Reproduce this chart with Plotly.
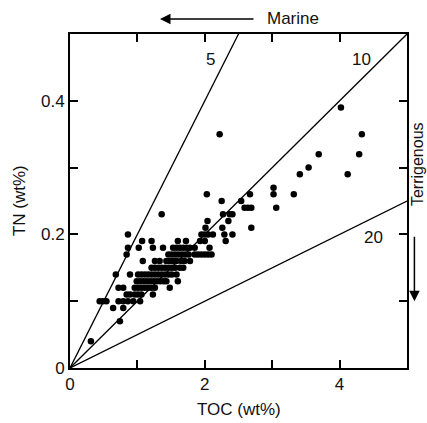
import plotly.graph_objects as go

# TN rows (wt%) and the TOC values (wt%) of samples in each row
tn_rows = [0.04, 0.07, 0.09, 0.10, 0.11, 0.12, 0.13, 0.14, 0.15, 0.16, 0.17,
           0.18, 0.19, 0.20, 0.21, 0.22, 0.23, 0.24, 0.25, 0.26, 0.27, 0.29,
           0.30, 0.32, 0.35, 0.39]
toc_by_row = [
    [0.31],
    [0.74],
    [0.64, 0.79],
    [0.44, 0.49, 0.54, 0.72, 0.79, 0.86, 0.94, 1.04],
    [0.84, 0.89, 0.96, 1.01, 1.06, 1.23],
    [0.72, 0.79, 0.96, 1.01, 1.06, 1.11, 1.16, 1.21, 1.26, 1.48],
    [0.99, 1.04, 1.09, 1.14, 1.19, 1.24, 1.29, 1.34, 1.39, 1.43, 1.60],
    [0.68, 0.89, 1.01, 1.06, 1.11, 1.16, 1.21, 1.26, 1.31, 1.36, 1.41, 1.46, 1.51, 1.58],
    [1.21, 1.26, 1.31, 1.36, 1.41, 1.46, 1.51, 1.56, 1.63, 1.68],
    [1.08, 1.26, 1.33, 1.43, 1.48, 1.53, 1.58, 1.65, 1.70, 1.78],
    [0.84, 1.46, 1.51, 1.56, 1.61, 1.66, 1.71, 1.76, 1.85, 1.90, 1.95, 2.00, 2.05, 2.10],
    [0.86, 1.02, 1.23, 1.38, 1.53, 1.58, 1.63, 1.68, 1.73, 1.78, 1.85, 2.07],
    [1.07, 1.21, 1.60, 1.72, 1.93, 2.00, 2.31],
    [0.86, 1.95, 2.00, 2.05, 2.12, 2.29, 2.41],
    [2.01, 2.26, 2.69],
    [2.04, 2.35],
    [1.36, 2.27, 2.37, 2.41],
    [2.59, 2.64, 2.69, 3.06],
    [2.25, 2.54],
    [2.03, 2.67, 3.02, 3.32],
    [3.02],
    [3.41, 4.12],
    [3.54],
    [3.69, 4.29],
    [2.22, 4.33],
    [4.02],
]

cn_ratios = [5, 10, 20]
cn_label_pos = [(2.09, 0.462), (4.33, 0.462), (4.50, 0.196)]

x_ticks = [0, 1, 2, 3, 4, 5]
x_ticktext = ["0", "", "2", "", "4", ""]
y_ticks = [0, 0.1, 0.2, 0.3, 0.4, 0.5]
y_ticktext = ["0", "", "0.2", "", "0.4", ""]

toc = [t for row, vals in zip(tn_rows, toc_by_row) for t in vals]
tn = [row for row, vals in zip(tn_rows, toc_by_row) for _ in vals]

FONT = "Liberation Sans, Arial, sans-serif"
FS = 17
fig = go.Figure()

for r in cn_ratios:
    fig.add_trace(go.Scatter(x=[0, 5], y=[0, 5 / r], mode="lines",
                             line=dict(color="black", width=1.3),
                             showlegend=False, hoverinfo="skip"))

fig.add_trace(go.Scatter(x=toc, y=tn, mode="markers",
                         marker=dict(color="black", size=6.5),
                         showlegend=False))

for r, (lx, ly) in zip(cn_ratios, cn_label_pos):
    fig.add_annotation(x=lx, y=ly, xref="x", yref="y", text=str(r),
                       showarrow=False, font=dict(size=FS, color="#111"))

# Marine arrow (pointing left)
fig.add_annotation(x=0.267, y=1.045, xref="paper", yref="paper",
                   ax=95, ay=0, text="", showarrow=True,
                   arrowhead=2, arrowsize=1.4, arrowwidth=1.5, arrowcolor="black")
fig.add_annotation(x=0.662, y=1.045, xref="paper", yref="paper",
                   xanchor="center", yanchor="middle",
                   text="Marine", showarrow=False,
                   font=dict(size=FS, color="#111"))

# Terrigenous arrow (pointing down)
fig.add_annotation(x=1.022, y=0.2, xref="paper", yref="paper",
                   ax=0, ay=-66, text="", showarrow=True,
                   arrowhead=2, arrowsize=1.4, arrowwidth=1.5, arrowcolor="black")
fig.add_annotation(x=1.031, y=0.612, xref="paper", yref="paper",
                   xanchor="center", yanchor="middle",
                   text="Terrigenous", showarrow=False, textangle=-90,
                   borderpad=0,
                   font=dict(size=16, color="#111"))

# Axis titles
fig.add_annotation(x=0.501, y=-0.123, xref="paper", yref="paper",
                   xanchor="center", yanchor="middle",
                   text="TOC (wt%)", showarrow=False,
                   font=dict(size=FS, color="#111"))
fig.add_annotation(x=-0.151, y=0.5, xref="paper", yref="paper",
                   xanchor="center", yanchor="middle", textangle=-90,
                   text="TN (wt%)", showarrow=False,
                   font=dict(size=FS, color="#111"))

axis_common = dict(showgrid=False, zeroline=False, showline=True,
                   linecolor="black", linewidth=2, mirror="ticks",
                   ticks="inside", ticklen=8, tickwidth=1.5, tickcolor="black",
                   automargin=False,
                   tickfont=dict(size=FS, color="#111", family=FONT))

fig.update_xaxes(range=[0, 5], tickvals=x_ticks, ticktext=x_ticktext,
                 **axis_common)
fig.update_yaxes(range=[0, 0.5], tickvals=y_ticks, ticktext=y_ticktext,
                 **axis_common)

fig.update_layout(width=427, height=423,
                  margin=dict(l=70, r=20, t=34, b=55),
                  paper_bgcolor="white", plot_bgcolor="white",
                  font=dict(family=FONT, color="#111"))

fig.write_html("out.html")
